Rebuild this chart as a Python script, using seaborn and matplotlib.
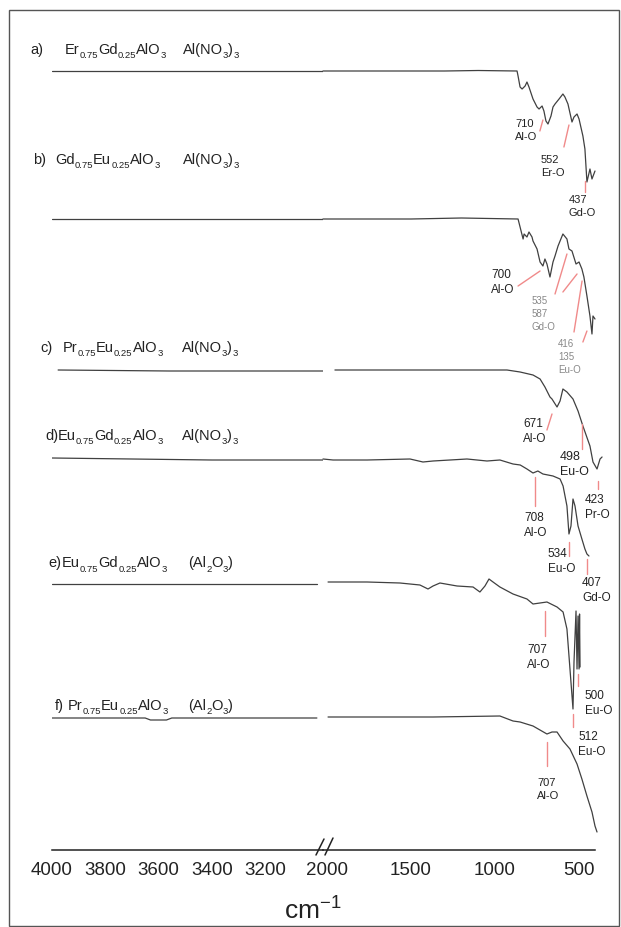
import re
import matplotlib
matplotlib.use("Agg")
import matplotlib.pyplot as plt
import seaborn as sns
from matplotlib.lines import Line2D
from matplotlib.patches import Rectangle

sns.set_style("white")
plt.rcParams["font.family"] = ["Liberation Sans", "DejaVu Sans"]
plt.rcParams["mathtext.fontset"] = "custom"
plt.rcParams["mathtext.rm"] = "Liberation Sans"
plt.rcParams["mathtext.it"] = "Liberation Sans:italic"
plt.rcParams["mathtext.bf"] = "Liberation Sans:bold"

# spectra: wavenumber (cm-1) and relative transmittance, stacked by offsets
wn_a = [4000, 3800, 3555, 3300, 2982, 2024, 1700, 1300, 1100, 869, 863, 851, 839, 821, 810, 798, 774,
        750, 738, 720, 709, 697, 685, 667, 655, 643, 619, 596, 584, 566, 542, 530, 512, 500, 477,
        465, 453, 435, 423, 405]
t_a = [0, 0, 0, 0, 0, 0, 0, 0, 0.5, 0, -5, -16, -18, -15, -11, -16, -28,
       -36, -38, -35, -40, -50, -53, -45, -36, -33, -28, -23, -26, -33, -51, -46, -43, -48, -65,
       -78, -111, -98, -108, -100]

wn_b = [4000, 3500, 2982, 2024, 1500, 1200, 863, 833, 827, 810, 798, 780, 774, 750, 732, 715, 703,
        691, 673, 655, 643, 625, 596, 572, 560, 542, 518, 500, 483, 471, 453, 435, 423, 417, 405]
t_b = [0, 0, 0, 0, 0, 1, 0, -20, -15, -18, -13, -18, -22, -30, -43, -47, -40,
       -45, -58, -43, -37, -27, -15, -20, -30, -32, -45, -43, -50, -58, -77, -97, -115, -97, -100]

wn_c = [3977, 3560, 2982, 1953, 1500, 929, 851, 774, 732, 703, 673, 661, 631, 613, 596, 572, 536,
        506, 477, 435, 417, 393, 375, 363]
t_c = [0, -1, -1, 0, 0, 0, -2, -5, -9, -17, -27, -29, -37, -31, -19, -22, -29,
       -41, -56, -76, -92, -99, -89, -87]

wn_d = [4000, 3700, 3400, 2982, 2024, 1964, 1762, 1506, 1429, 1369, 1268, 1167, 1048, 971, 893,
        850, 810, 774, 745, 715, 655, 613, 595, 572, 560, 548, 536, 524, 506, 483, 465, 453, 441]
t_d = [1, 0, -1, -1, 0, -1, -1, 0, -3, -2, -1, 0, -2, -1, -5,
       -6, -10, -14, -12, -15, -17, -20, -27, -47, -75, -67, -40, -47, -67, -80, -90, -95, -97]

wn_e = [4000, 3500, 3005, 1994, 1762, 1566, 1447, 1399, 1369, 1328, 1226, 1131, 1090, 1060, 1036,
        1012, 971, 893, 810, 774, 691, 631, 595, 572, 554, 536, 530, 518, 512, 506, 500, 497, 494]
t_e = [0, 0, 0, 2, 2, 1, -1, -5, -2, 1, -2, -3, -8, -2, 5,
       2, -3, -10, -15, -20, -18, -23, -28, -45, -85, -125, -78, -27, -85, -32, -85, -30, -83]

wn_f = [4000, 3650, 3630, 3570, 3550, 3005, 1994, 1369, 971, 893, 851, 774, 691, 661, 631, 595,
        554, 512, 483, 453, 423, 405, 393]
t_f = [0, 0, -2, -2, 0, 0, 1, 1, 2, -3, -4, -8, -16, -14, -14, -23,
       -31, -46, -61, -78, -94, -108, -114]

offsets = [779, 631, 480, 391, 266, 132]
spectra = [(wn_a, t_a), (wn_b, t_b), (wn_c, t_c), (wn_d, t_d), (wn_e, t_e), (wn_f, t_f)]

letters = ["a)", "b)", "c)", "d)", "e)", "f)"]
formulas = ["Er_{0.75}Gd_{0.25}AlO_{3}", "Gd_{0.75}Eu_{0.25}AlO_{3}", "Pr_{0.75}Eu_{0.25}AlO_{3}",
            "Eu_{0.75}Gd_{0.25}AlO_{3}", "Eu_{0.75}Gd_{0.25}AlO_{3}", "Pr_{0.75}Eu_{0.25}AlO_{3}"]
precursors = ["Al(NO_{3})_{3}", "Al(NO_{3})_{3}", "Al(NO_{3})_{3}", "Al(NO_{3})_{3}",
              "(Al_{2}O_{3})", "(Al_{2}O_{3})"]

# peak labels: text, text position (wn, y), pointer segments
peaks = [
    ("710\nAl-O", 881, 732, [(733, 719, 715, 730)], 8, "#222222"),
    ("552\nEr-O", 726, 696, [(590, 703, 560, 725)], 8, "#222222"),
    ("437\nGd-O", 560, 656, [(465, 669, 465, 658)], 8, "#222222"),
    ("700\nAl-O", 1024, 582, [(863, 564, 732, 579)], 8.5, "#222222"),
    ("535\n587\nGd-O", 780, 555, [(643, 556, 572, 596), (596, 558, 512, 576)], 7, "#888888"),
    ("416\n135\nEu-O", 625, 512, [(530, 518, 482, 569), (477, 508, 453, 519)], 7, "#888888"),
    ("671\nAl-O", 834, 433, [(691, 420, 661, 436)], 8.5, "#222222"),
    ("498\nEu-O", 613, 400, [(483, 401, 483, 426)], 9, "#222222"),
    ("423\nPr-O", 465, 357, [(387, 361, 387, 369)], 8.5, "#222222"),
    ("708\nAl-O", 828, 339, [(762, 344, 762, 373)], 8.5, "#222222"),
    ("534\nEu-O", 685, 303, [(560, 294, 560, 308)], 8.5, "#222222"),
    ("407\nGd-O", 483, 274, [(453, 276, 453, 291)], 8.5, "#222222"),
    ("707\nAl-O", 810, 207, [(703, 214, 703, 239)], 8.5, "#222222"),
    ("500\nEu-O", 465, 161, [(506, 164, 506, 176)], 8.5, "#222222"),
    ("512\nEu-O", 506, 120, [(536, 123, 536, 136)], 8.5, "#222222"),
    ("707\nAl-O", 750, 73, [(691, 84, 691, 108)], 8, "#222222"),
]

W, H = 621, 928
fig = plt.figure(figsize=(W / 100, H / 100), dpi=100)
renderer = fig.canvas.get_renderer()


def fx(x):
    return x / W


def fy(y):
    return 1 - y / H


def chem(x, base, s, size=10.5, sub_size=6.8, drop=4.5, color="#222222"):
    # draw a formula with deep, small subscripts piece by piece
    for main, sub in re.findall(r"([^_]+)|_\{([^}]*)\}", s):
        piece = main if main else sub
        if main:
            t = fig.text(fx(x), fy(base), piece, fontsize=size, va="baseline", color=color)
        else:
            t = fig.text(fx(x), fy(base + drop), piece, fontsize=sub_size, va="baseline", color=color)
        x += t.get_window_extent(renderer).width


ax_l = fig.add_axes([fx(52), fy(851), (323 - 52) / W, (851 - 20) / H])
ax_r = fig.add_axes([fx(323), fy(851), (595 - 323) / W, (851 - 20) / H])

line_col = "#404040"
for (wn, t), off in zip(spectra, offsets):
    left = [(w, v + off) for w, v in zip(wn, t) if w > 2500]
    right = [(w, v + off) for w, v in zip(wn, t) if w < 2500]
    sns.lineplot(x=[p[0] for p in left], y=[p[1] for p in left], ax=ax_l, sort=False,
                 estimator=None, color=line_col, linewidth=0.9)
    sns.lineplot(x=[p[0] for p in right], y=[p[1] for p in right], ax=ax_r, sort=False,
                 estimator=None, color=line_col, linewidth=0.9)
for l in ax_r.lines:
    l.set_clip_on(False)

for text, tw, ty, segs, size, col in peaks:
    ax_r.text(tw, ty, text, ha="left", va="top", fontsize=size, color=col, linespacing=1.35)
    for x0, y0, x1, y1 in segs:
        ax_r.plot([x0, x1], [y0, y1], color="#f08a8a", linewidth=1, clip_on=False)

for ax in (ax_l, ax_r):
    ax.set_ylim(0, 831)
    ax.set_yticks([])
    for s in ("left", "right", "top"):
        ax.spines[s].set_visible(False)
    ax.spines["bottom"].set_linewidth(1.1)
    ax.spines["bottom"].set_color("#222222")
    ax.set_xlabel("")
    ax.set_ylabel("")
    ax.patch.set_alpha(0)
    ax.tick_params(axis="x", which="major", direction="in", length=8, width=1.1, pad=8,
                   labelsize=13.5, colors="#222222")
    ax.tick_params(axis="x", which="minor", direction="in", length=4.3, width=1.1,
                   colors="#222222")

ax_l.set_xlim(4000, 2982)
ax_l.set_xticks([4000, 3800, 3600, 3400, 3200])
ax_l.set_xticks([3900, 3700, 3500, 3300, 3100], minor=True)
ax_r.set_xlim(2024, 405)
ax_r.set_xticks([2000, 1500, 1000, 500])
ax_r.set_xticks([1750, 1250, 750], minor=True)
ax_r.xaxis.get_major_ticks()[0].tick1line.set_visible(False)

# axis break marks
for x0, y0, x1, y1 in [(316, 856, 324, 840), (325, 856, 333, 839)]:
    fig.add_artist(Line2D([fx(x0), fx(x1)], [fy(y0), fy(y1)], transform=fig.transFigure,
                          color="#222222", linewidth=1.1))

# series labels
label_pos = [(30, 65, 183, 54), (33, 55, 183, 164), (40, 63, 182, 352),
             (45, 58, 182, 440), (48, 62, 188, 567), (55, 68, 188, 710)]
for (lx, fxp, px, by), let, form, prec in zip(label_pos, letters, formulas, precursors):
    fig.text(fx(lx), fy(by), let, fontsize=10.5, va="baseline", color="#222222")
    chem(fxp, by, form)
    chem(px, by, prec)

fig.text(fx(313), fy(920), r"cm$^{-1}$", ha="center", va="baseline", fontsize=19, color="#222222")

fig.add_artist(Rectangle((fx(9), fy(927)), fx(619) - fx(9), fy(11) - fy(927),
                         transform=fig.transFigure, fill=False, edgecolor="#555555", linewidth=1))

fig.savefig("out.png", dpi=100)
